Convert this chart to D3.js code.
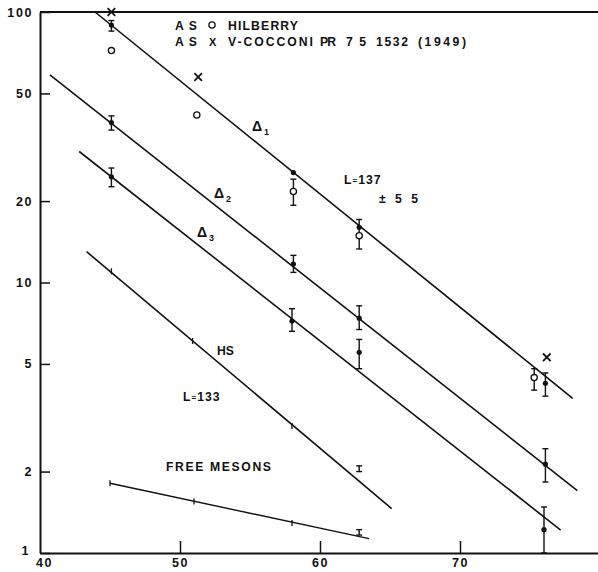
<!DOCTYPE html>
<html>
<head>
<meta charset="utf-8">
<script src="https://cdn.jsdelivr.net/npm/d3@7"></script>
<style>
  html, body { margin: 0; padding: 0; background: #fff; }
  svg { display: block; }
  text { font-family: "Liberation Sans", Arial, sans-serif; fill: #111; font-weight: bold; }
</style>
</head>
<body>
<svg id="chart" width="598" height="572"></svg>
<script>
// ---- axis ticks ----
const xTicks = [40, 50, 60, 70];
const yTicks = [1, 2, 5, 10, 20, 50, 100];

// ---- fitted lines (x, intensity) ----
const lineDelta1 = [[43.93, 100], [78.05, 3.73]];
const lineDelta2 = [[40.71, 58.5], [78.38, 1.70]];
const lineDelta3 = [[42.8, 30.5], [77.19, 1.216]];
const lineHS     = [[43.33, 13.0], [65.12, 1.46]];
const lineFree   = [[45.0, 1.81], [63.5, 1.13]];

// ---- measured points: x, value, lower, upper ----
const delta1Points = [
  { x: 45.1, v: 89.5, lo: 85.0, hi: 93.0 },
  { x: 58.1, v: 25.5 },
  { x: 62.8, v: 16.0 },
  { x: 76.1, v: 4.24, lo: 3.80, hi: 4.63 }
];
const hilberryPoints = [
  { x: 45.1, v: 72.0 },
  { x: 51.2, v: 41.6 },
  { x: 58.1, v: 21.7, lo: 19.3, hi: 24.1 },
  { x: 62.8, v: 14.9, lo: 13.3, hi: 17.1 },
  { x: 75.3, v: 4.45, lo: 4.0, hi: 4.8 }
];
const cocconiPoints = [
  { x: 45.1, v: 100 },
  { x: 51.3, v: 57.5 },
  { x: 76.2, v: 5.29 }
];
const delta2Points = [
  { x: 45.1, v: 39.0, lo: 36.6, hi: 41.3 },
  { x: 58.1, v: 11.7, lo: 10.9, hi: 12.6 },
  { x: 62.8, v: 7.38, lo: 6.7, hi: 8.2 },
  { x: 76.1, v: 2.13, lo: 1.83, hi: 2.43 }
];
const delta3Points = [
  { x: 45.1, v: 24.6, lo: 22.6, hi: 26.5 },
  { x: 58.0, v: 7.2, lo: 6.6, hi: 8.0 },
  { x: 62.8, v: 5.52, lo: 4.8, hi: 6.16 },
  { x: 76.0, v: 1.22, lo: 1.0, hi: 1.48 }
];
const hsTicks   = [{ x: 45.1, v: 11.0 }, { x: 50.9, v: 6.08 }, { x: 58.0, v: 2.95 }];
const hsBar     = [{ x: 62.8, lo: 2.0, hi: 2.10 }];
const freeTicks = [{ x: 45.0, v: 1.81 }, { x: 51.0, v: 1.55 }, { x: 58.0, v: 1.29 }];
const freeBar   = [{ x: 62.8, lo: 1.165, hi: 1.22 }];

// ---- scales ----
const svg = d3.select("#chart");
const x = d3.scaleLinear().domain([40, 80]).range([40, 600]);
const y = d3.scaleLog().domain([1, 100]).range([553, 12]);
const ink = "#111";

// ---- axes ----
const yAxis = d3.axisLeft(y).tickValues(yTicks).tickFormat(d3.format("d"))
  .tickSize(-10).tickSizeOuter(0).tickPadding(7);
const gy = svg.append("g").attr("transform", "translate(40,0)").call(yAxis);

const xAxis = d3.axisBottom(x).tickValues(xTicks).tickFormat(d3.format("d"))
  .tickSize(-12).tickSizeOuter(0).tickPadding(5);
const gx = svg.append("g").attr("transform", "translate(0,553)").call(xAxis);

[gx, gy].forEach(g => {
  g.select(".domain").attr("stroke", ink).attr("stroke-width", 2);
  g.selectAll(".tick line").attr("stroke", ink).attr("stroke-width", 1.5);
  g.selectAll(".tick text").attr("fill", ink)
    .style("font-family", '"Liberation Sans", Arial, sans-serif')
    .style("font-weight", "bold")
    .style("font-size", "12.5px").style("letter-spacing", "1.6px");
});
gx.selectAll(".tick").filter(d => d === 40).select("line").remove();
gx.selectAll(".tick").filter(d => d === 40).select("text").attr("dx", 4);
gy.selectAll(".tick").filter(d => d === 1).select("text").attr("dy", "0.1em").attr("dx", -3);

// top rule
svg.append("line")
  .attr("x1", x(40)).attr("x2", x(80))
  .attr("y1", y(100)).attr("y2", y(100))
  .attr("stroke", ink).attr("stroke-width", 2);

// ---- lines ----
const line = d3.line().x(d => x(d[0])).y(d => y(d[1]));
[lineDelta1, lineDelta2, lineDelta3, lineHS].forEach(l => {
  svg.append("path").attr("d", line(l)).attr("fill", "none")
    .attr("stroke", ink).attr("stroke-width", 1.6);
});
svg.append("path").attr("d", line(lineFree)).attr("fill", "none")
  .attr("stroke", ink).attr("stroke-width", 1.4);

// ---- error bars ----
function errorBars(data) {
  const g = svg.append("g").attr("stroke", ink).attr("stroke-width", 1.4);
  data.filter(d => d.lo != null).forEach(d => {
    const cx = x(d.x);
    g.append("line").attr("x1", cx).attr("x2", cx).attr("y1", y(d.lo)).attr("y2", y(d.hi));
    [d.lo, d.hi].forEach(v => {
      g.append("line").attr("x1", cx - 3).attr("x2", cx + 3).attr("y1", y(v)).attr("y2", y(v));
    });
  });
}
[delta1Points, hilberryPoints, delta2Points, delta3Points, hsBar, freeBar].forEach(errorBars);

// ---- filled points ----
[delta1Points, delta2Points, delta3Points].forEach(data => {
  svg.append("g").selectAll("circle").data(data).join("circle")
    .attr("cx", d => x(d.x)).attr("cy", d => y(d.v)).attr("r", 2.6).attr("fill", ink);
});

// ---- open points ----
svg.append("g").selectAll("circle").data(hilberryPoints).join("circle")
  .attr("cx", d => x(d.x)).attr("cy", d => y(d.v)).attr("r", 3.1)
  .attr("fill", "#fff").attr("stroke", ink).attr("stroke-width", 1.3);

// ---- crosses ----
svg.append("g").selectAll("path").data(cocconiPoints).join("path")
  .attr("d", d => {
    const cx = x(d.x), cy = y(d.v), s = 3.8;
    return `M${cx - s},${cy - s}L${cx + s},${cy + s}M${cx - s},${cy + s}L${cx + s},${cy - s}`;
  })
  .attr("stroke", ink).attr("stroke-width", 1.8).attr("fill", "none");

// ---- small ticks on HS and free-meson lines ----
[hsTicks, freeTicks].forEach(data => {
  svg.append("g").selectAll("line").data(data).join("line")
    .attr("x1", d => x(d.x)).attr("x2", d => x(d.x))
    .attr("y1", d => y(d.v) - 3).attr("y2", d => y(d.v) + 3)
    .attr("stroke", ink).attr("stroke-width", 1.3);
});

// ---- labels ----
const lab = svg.append("g").style("font-size", "12.2px");
function word(txt, px, py, len, size) {
  const t = lab.append("text").attr("x", px).attr("y", py).text(txt);
  if (len) t.attr("textLength", len).attr("lengthAdjust", "spacing");
  if (size) t.style("font-size", size + "px");
  return t;
}
// key
word("AS", 175, 29.5, 22);
svg.append("circle").attr("cx", 212).attr("cy", 25).attr("r", 3.1)
  .attr("fill", "#fff").attr("stroke", ink).attr("stroke-width", 1.3);
word("HILBERRY", 228, 29.5, 70);
word("AS", 175, 46, 22);
word("X", 209, 46, null, 11);
word("V-COCCONI", 228, 46, 85);
word("PR", 320, 46, 16);
word("75", 346, 46, 20);
word("1532", 376, 46, 32);
word("(1949)", 418, 46, 48);

// line names
function delta(px, py, sub) {
  const t = lab.append("text").attr("x", px).attr("y", py);
  t.append("tspan").style("font-size", "14px").text("Δ");
  t.append("tspan").attr("dx", 2).attr("dy", 4).style("font-size", "9px").text(sub);
}
delta(252, 131, "1");
delta(214, 198, "2");
delta(197, 237, "3");

word("HS", 217, 355, 17);
function lLabel(px, py, num) {
  const t = lab.append("text").attr("x", px).attr("y", py).style("letter-spacing", "1px");
  t.append("tspan").text("L");
  t.append("tspan").style("font-size", "8px").attr("dy", -1).text("=");
  t.append("tspan").attr("dy", 1).text(num);
}
lLabel(183, 401, "133");
lLabel(344, 184, "137");
word("± 5 5", 379, 203, 39);
word("FREE MESONS", 166, 471, 105);
</script>
</body>
</html>
